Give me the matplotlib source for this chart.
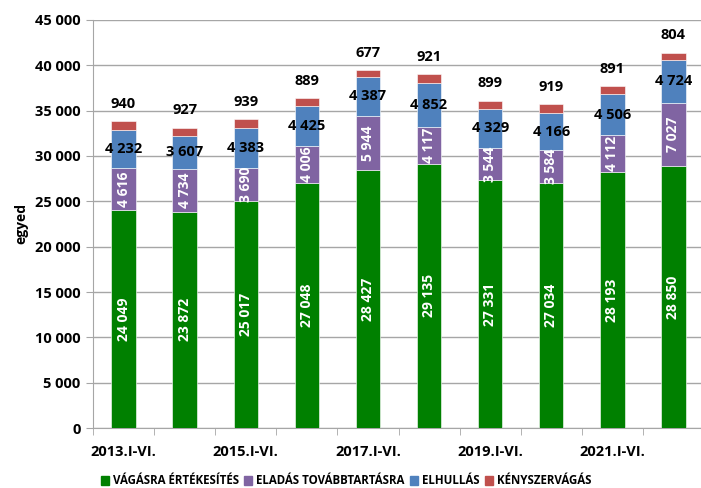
import numpy as np
import matplotlib.pyplot as plt
from matplotlib.patches import Patch

plt.rcParams['font.family'] = ['Open Sans', 'DejaVu Sans']
plt.rcParams['font.weight'] = 'bold'

# adatok
periods = ['2013.I-VI.', '2014.I-VI.', '2015.I-VI.', '2016.I-VI.', '2017.I-VI.',
           '2018.I-VI.', '2019.I-VI.', '2020.I-VI.', '2021.I-VI.', '2022.I-VI.']
vagasra = [24049, 23872, 25017, 27048, 28427, 29135, 27331, 27034, 28193, 28850]
eladas = [4616, 4734, 3690, 4006, 5944, 4117, 3544, 3584, 4112, 7027]
elhullas = [4232, 3607, 4383, 4425, 4387, 4852, 4329, 4166, 4506, 4724]
kenyszer = [940, 927, 939, 889, 677, 921, 899, 919, 891, 804]
series_names = ['VÁGÁSRA ÉRTÉKESÍTÉS', 'ELADÁS TOVÁBBTARTÁSRA', 'ELHULLÁS', 'KÉNYSZERVÁGÁS']
colors = ['#008000', '#8064A2', '#4F81BD', '#C0504D']


def fmt(v):
    return f'{v:,}'.replace(',', ' ')


fig = plt.figure(figsize=(7.01, 4.88), dpi=100)
ax = fig.add_axes([93 / 701, 60 / 488, 611 / 701, 408 / 488])

x = np.arange(len(periods))
w = 0.40
bottom = np.zeros(len(periods))
for i, (vals, c) in enumerate(zip([vagasra, eladas, elhullas, kenyszer], colors)):
    vals = np.array(vals)
    ax.bar(x, vals, w, bottom=bottom, color=c, edgecolor='white', linewidth=0.4, zorder=3)
    for xi, b, v in zip(x, bottom, vals):
        if i < 2:
            ax.text(xi, b + v / 2, fmt(v), rotation=90, ha='center', va='center',
                    color='white', fontsize=10, fontweight='bold', zorder=4)
        elif i == 2:
            ax.text(xi, b + v / 2, fmt(v), ha='center', va='center',
                    color='black', fontsize=10.5, fontweight='bold', zorder=4)
        else:
            ax.text(xi, b + v + 1900, fmt(v), ha='center', va='center',
                    color='black', fontsize=10.5, fontweight='bold', zorder=4)
    bottom += vals

ax.set_xlim(-0.5, len(periods) - 0.5)
ax.set_ylim(0, 45000)
ax.set_yticks(np.arange(0, 45001, 5000))
ax.set_yticklabels([fmt(v) for v in range(0, 45001, 5000)], fontsize=10.5, fontweight='bold')
ax.set_xticks(x[::2])
ax.set_xticklabels(periods[::2], fontsize=10.5, fontweight='bold')
ax.set_xticks(np.arange(-0.5, len(periods), 1), minor=True)
ax.tick_params(axis='x', which='major', length=0, pad=12)
ax.tick_params(axis='x', which='minor', length=5, color='#A6A6A6')
ax.tick_params(axis='y', length=5, color='#A6A6A6', pad=4)
ax.grid(axis='y', color='#A6A6A6', linewidth=1, zorder=0)
for s in ['top', 'right']:
    ax.spines[s].set_visible(False)
for s in ['left', 'bottom']:
    ax.spines[s].set_color('#A6A6A6')
ax.set_ylabel('egyed', fontsize=10, fontweight='bold', labelpad=5)

handles = [Patch(color=c, label=n) for c, n in zip(colors, series_names)]
fig.legend(handles=handles, loc='center', bbox_to_anchor=(346 / 701, 1 - 481 / 488),
           ncol=4, frameon=False, handlelength=0.7, handleheight=0.7,
           handletextpad=0.3, columnspacing=0.5, prop={'weight': 'bold', 'size': 8.3})

fig.savefig('out.png', dpi=100)
